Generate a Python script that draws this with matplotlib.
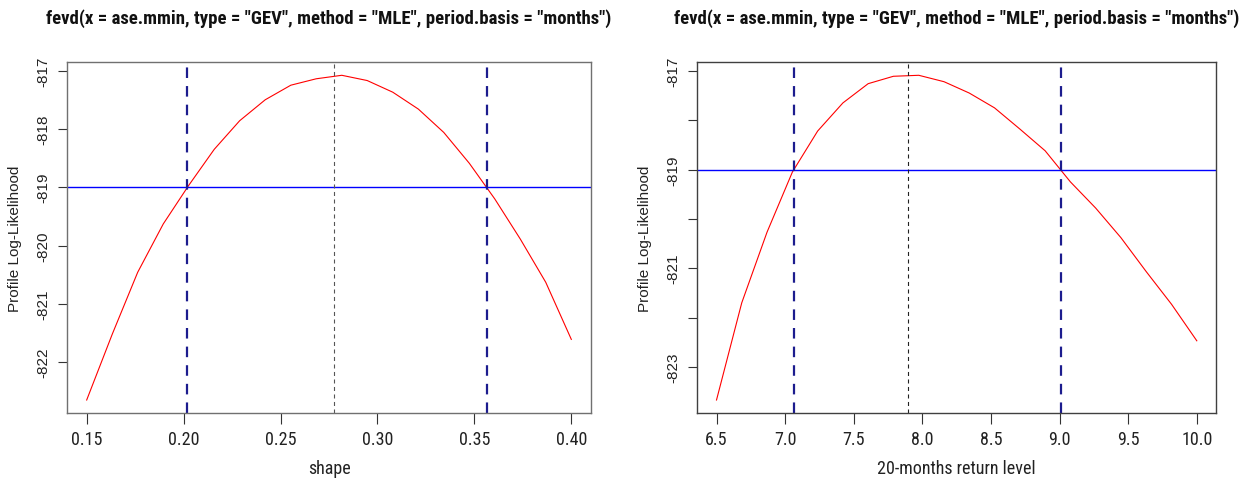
import os
import matplotlib
matplotlib.use("Agg")
import matplotlib.pyplot as plt
from matplotlib import font_manager
from matplotlib.font_manager import FontProperties

plt.rcParams['lines.scale_dashes'] = False

# ---- data ----
title_text = 'fevd(x = ase.mmin, type = "GEV", method = "MLE", period.basis = "months")'

shape_x = [0.1500, 0.1632, 0.1763, 0.1895, 0.2026, 0.2158, 0.2289, 0.2421, 0.2553, 0.2684,
           0.2816, 0.2947, 0.3079, 0.3211, 0.3342, 0.3474, 0.3605, 0.3737, 0.3868, 0.4000]
shape_ll = [-822.65, -821.52, -820.46, -819.63, -818.97, -818.35, -817.86, -817.50, -817.25, -817.14,
            -817.08, -817.17, -817.37, -817.66, -818.06, -818.59, -819.20, -819.89, -820.63, -821.61]
shape_mle = 0.2778
shape_ci = [0.2020, 0.3567]
shape_cut = -819.00
shape_xticks = [0.15, 0.20, 0.25, 0.30, 0.35, 0.40]
shape_xticklabels = ["0.15", "0.20", "0.25", "0.30", "0.35", "0.40"]
shape_yticks = [-822, -821, -820, -819, -818, -817]
shape_yticklabels = ["-822", "-821", "-820", "-819", "-818", "-817"]

rl_x = [6.500, 6.684, 6.868, 7.053, 7.237, 7.421, 7.605, 7.789, 7.974, 8.158,
        8.342, 8.526, 8.711, 8.895, 9.079, 9.263, 9.447, 9.632, 9.816, 10.000]
rl_ll = [-823.67, -821.70, -820.27, -819.05, -818.22, -817.65, -817.26, -817.11, -817.09, -817.22,
         -817.45, -817.75, -818.18, -818.62, -819.25, -819.78, -820.38, -821.07, -821.73, -822.47]
rl_mle = 7.893
rl_ci = [7.063, 9.010]
rl_cut = -819.01
rl_xticks = [6.5, 7.0, 7.5, 8.0, 8.5, 9.0, 9.5, 10.0]
rl_xticklabels = ["6.5", "7.0", "7.5", "8.0", "8.5", "9.0", "9.5", "10.0"]
rl_yticks = [-823, -822, -821, -820, -819, -818, -817]
rl_yticklabels = ["-823", "", "-821", "", "-819", "", "-817"]

xlabels = ["shape", "20-months return level"]
ylabel = "Profile Log-Likelihood"


# ---- fonts: look for a narrow / condensed face ----
def find_font(keys, bold):
    files = [f.fname for f in font_manager.fontManager.ttflist]
    for key in keys:
        for fn in files:
            b = os.path.basename(fn).lower()
            if key in b and ("bold" in b) == bold and "italic" not in b and "oblique" not in b:
                return fn
    return None


nr = find_font(["liberationsansnarrow", "robotocondensed", "opensanscondensed", "dejavusanscondensed"], False)
nb = find_font(["liberationsansnarrow", "robotocondensed", "opensanscondensed", "dejavusanscondensed"], True)
fp_narrow = FontProperties(fname=nr) if nr else FontProperties(family="Liberation Sans")
fp_narrow_bold = FontProperties(fname=nb) if nb else FontProperties(family="Liberation Sans", weight="bold")
regular = "Liberation Sans"

W, H = 1247, 481
fig = plt.figure(figsize=(W / 100, H / 100), dpi=100)
renderer = fig.canvas.get_renderer()

panels = [
    dict(x=shape_x, y=shape_ll, mle=shape_mle, ci=shape_ci, cut=shape_cut,
         xt=shape_xticks, xtl=shape_xticklabels, yt=shape_yticks, ytl=shape_yticklabels,
         xlab=xlabels[0], box=(67.3, 590.7), frame="#707070", mlecol="#555555"),
    dict(x=rl_x, y=rl_ll, mle=rl_mle, ci=rl_ci, cut=rl_cut,
         xt=rl_xticks, xtl=rl_xticklabels, yt=rl_yticks, ytl=rl_yticklabels,
         xlab=xlabels[1], box=(697.3, 1216.0), frame="#404040", mlecol="#222222"),
]

top_px, bot_px = 63.3, 414.0
for p in panels:
    l, r = p["box"]
    ax = fig.add_axes([l / W, 1 - bot_px / H, (r - l) / W, (bot_px - top_px) / H])
    ax.plot(p["x"], p["y"], color="#ff0000", lw=0.8)
    ax.axhline(p["cut"], color="#0000ff", lw=1.0)
    for c in p["ci"]:
        ax.axvline(c, color="#1c1c8e", lw=1.6, dashes=(7.6, 5.8))
    ax.axvline(p["mle"], color=p["mlecol"], lw=0.8, dashes=(2.9, 2.5))

    xr = max(p["x"]) - min(p["x"])
    yr = max(p["y"]) - min(p["y"])
    ax.set_xlim(min(p["x"]) - 0.04 * xr, max(p["x"]) + 0.04 * xr)
    ax.set_ylim(min(p["y"]) - 0.04 * yr, max(p["y"]) + 0.04 * yr)

    ax.set_xticks(p["xt"])
    ax.set_xticklabels(p["xtl"], fontproperties=fp_narrow, fontsize=13, color="#222222")
    ax.set_yticks(p["yt"])
    ax.set_yticklabels(p["ytl"], fontfamily=regular, fontsize=11, rotation=90,
                       va="center", color="#222222")
    ax.tick_params(axis="x", direction="out", length=8, width=0.8, colors="#333333",
                   labelcolor="#222222", pad=4)
    ax.tick_params(axis="y", direction="out", length=6.5, width=0.8, colors="#333333",
                   labelcolor="#222222", pad=6)
    for s in ax.spines.values():
        s.set_color(p["frame"])
        s.set_linewidth(1.0)
    ax.set_xlabel(p["xlab"], fontproperties=fp_narrow, fontsize=13, color="#222222", labelpad=8)
    ax.set_ylabel(ylabel, fontfamily=regular, fontsize=11, color="#222222", labelpad=10)

    # title, sized so that its width matches the reference (~567 px)
    cx = (l + r) / 2 / W
    t = fig.text(cx, 1 - 19 / H, title_text, fontproperties=fp_narrow_bold,
                 fontsize=14, ha="center", va="center", color="#111111")
    w = t.get_window_extent(renderer).width
    t.set_fontsize(14 * 567.0 / w)

fig.savefig("out.png", dpi=100)
